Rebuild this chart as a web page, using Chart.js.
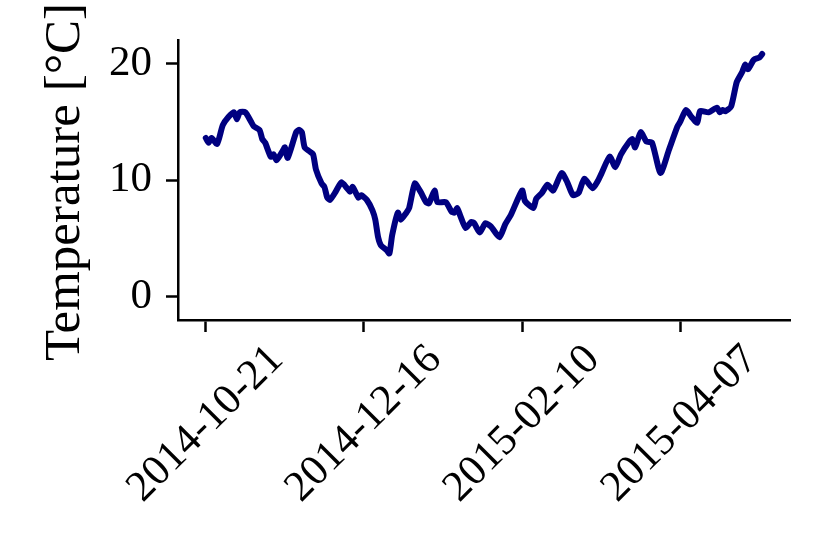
<!DOCTYPE html>
<html>
<head>
<meta charset="utf-8">
<script src="https://cdn.jsdelivr.net/npm/chart.js@4.4.1/dist/chart.umd.min.js"></script>
<style>
  body { margin: 0; background: #fff; }
  #wrap { width: 830px; height: 554px; position: relative; }
</style>
</head>
<body>
<div id="wrap"><canvas id="tempChart"></canvas></div>
<script>
// ─── Data ────────────────────────────────────────────
// days after 2014-10-21
const dayOffsets = [0,1,2,4,6,8,10,11,12,14,16,17,19,20,21,23,24,25,27,28,29,32,33,34,35,37,38,39,41,42,
  43,44,46,48,50,51,52,54,55,57,59,60,61,62,64,65,66,68,69,71,72,74,76,78,79,81,82,85,87,88,
  89,90,92,94,95,97,99,101,104,106,108,112,113,116,117,119,121,123,126,128,130,132,134,137,139,140,
  143,145,147,150,151,152,154,156,158,161,164,167,168,170,172,174,175,178,181,182,183,184,186,188,
  190,191,192,194,196,197];
const temperatures = [13.6,13.2,13.6,13.1,14.7,15.4,15.8,15.2,15.8,15.8,15.0,14.6,14.3,13.5,13.2,12.0,12.2,11.7,12.4,12.8,
  11.9,14.1,14.3,14.1,12.8,12.4,12.2,10.9,9.7,9.4,8.5,8.3,9.0,9.8,9.3,9.0,9.4,8.5,8.7,8.3,
  7.4,6.6,5.1,4.4,4.0,3.7,5.3,7.2,6.6,7.2,7.6,9.7,9.0,8.1,8.0,9.1,8.1,8.1,7.3,7.2,
  7.6,7.0,5.9,6.4,6.3,5.5,6.3,6.0,5.1,6.2,7.0,9.1,8.2,7.6,8.4,8.9,9.6,9.1,10.6,9.8,
  8.7,8.9,10.1,9.3,10.0,10.5,12.0,11.1,12.2,13.3,13.5,12.8,14.1,13.3,13.2,10.6,12.6,14.6,15.0,16.0,
  15.4,14.9,15.9,15.8,16.2,15.8,16.0,15.9,16.3,18.4,19.3,19.9,19.5,20.3,20.5,20.8];
const xTickDays = [0, 56, 112, 168];
const xTickLabels = ["2014-10-21", "2014-12-16", "2015-02-10", "2015-04-07"];
const yTicks = [0, 10, 20];
const yLabel = "Temperature [°C]";

const FONT = "'Liberation Serif', 'DejaVu Serif', serif";

// ─── Rotated date labels + y title ───────────────────
const labelsPlugin = {
  id: "labels",
  afterDraw(chart) {
    const ctx = chart.ctx;
    const xs = chart.scales.x;
    const area = chart.chartArea;
    ctx.save();
    ctx.fillStyle = "#000";
    ctx.font = "43px " + FONT;
    xTickDays.forEach((d, i) => {
      const x = xs.getPixelForValue(d);
      ctx.save();
      ctx.translate(x, area.bottom + 104);
      ctx.rotate(-Math.PI / 4);
      ctx.textAlign = "center";
      ctx.textBaseline = "middle";
      ctx.fillText(xTickLabels[i], 0, 0);
      ctx.restore();
    });
    ctx.translate(66, (area.top + area.bottom) / 2 + 2);
    ctx.rotate(-Math.PI / 2);
    ctx.textAlign = "center";
    ctx.textBaseline = "middle";
    ctx.font = "51px " + FONT;
    ctx.fillText(yLabel, 0, 0);
    ctx.restore();
  },
};

// ─── Chart ───────────────────────────────────────────
const ctx = document.getElementById("tempChart").getContext("2d");
new Chart(ctx, {
  type: "line",
  data: {
    datasets: [{
      data: dayOffsets.map((d, i) => ({ x: d, y: temperatures[i] })),
      borderColor: "#000080",
      borderWidth: 6,
      borderJoinStyle: "round",
      borderCapStyle: "round",
      pointRadius: 0,
      tension: 0.2,
      fill: false,
    }],
  },
  options: {
    responsive: true,
    maintainAspectRatio: false,
    animation: false,
    devicePixelRatio: 1,
    layout: { padding: { top: 40, right: 40, left: 0, bottom: 0 } },
    plugins: { legend: { display: false }, tooltip: { enabled: false } },
    scales: {
      x: {
        type: "linear",
        min: -9.85,
        max: 206.85,
        afterBuildTicks: s => { s.ticks = xTickDays.map(v => ({ value: v })); },
        afterFit: s => { s.height = 234; },
        ticks: { display: false },
        grid: { drawOnChartArea: false, drawTicks: true, tickLength: 12, tickWidth: 2.5, tickColor: "#000" },
        border: { display: true, color: "#000", width: 2.5 },
      },
      y: {
        min: -2,
        max: 22,
        afterBuildTicks: s => { s.ticks = yTicks.map(v => ({ value: v })); },
        afterFit: s => { s.width = 178; },
        ticks: { color: "#000", font: { family: FONT, size: 43 }, padding: 14 },
        grid: { drawOnChartArea: false, drawTicks: true, tickLength: 12, tickWidth: 2.5, tickColor: "#000" },
        border: { display: true, color: "#000", width: 2.5 },
      },
    },
  },
  plugins: [labelsPlugin],
});
</script>
</body>
</html>
